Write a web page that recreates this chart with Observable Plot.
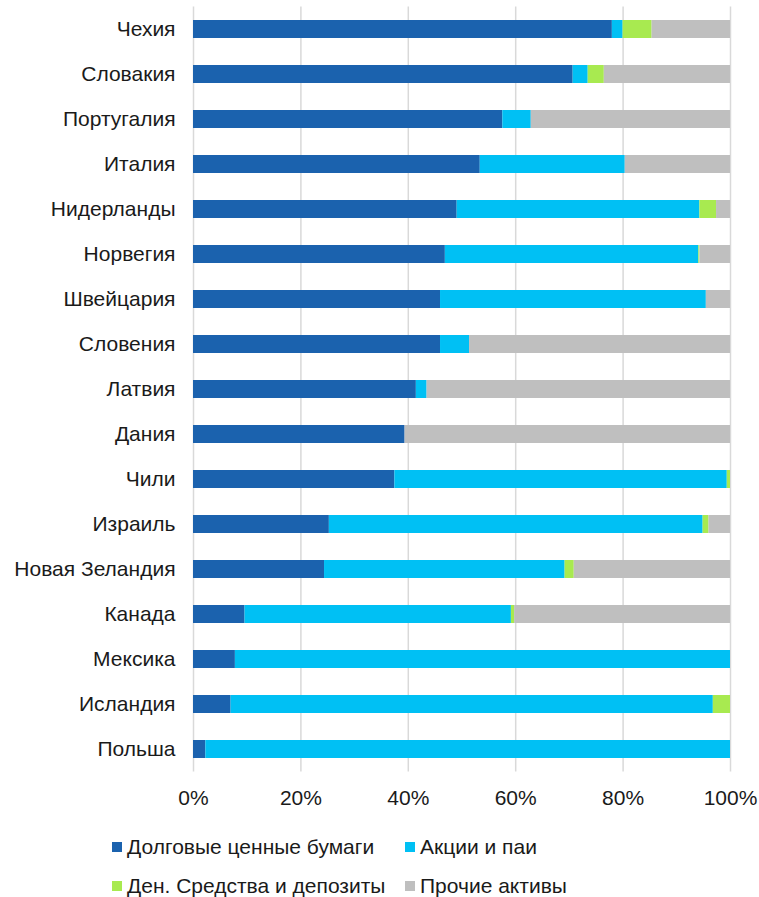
<!DOCTYPE html>
<html>
<head>
<meta charset="utf-8">
<script src="https://cdn.jsdelivr.net/npm/d3@7"></script>
<script src="https://cdn.jsdelivr.net/npm/@observablehq/plot@0.6"></script>
<style>
  body { margin: 0; background: #fff; font-family: "Liberation Sans", Arial, sans-serif; }
  #chart svg { display: block; }
  .legend { position: relative; height: 82px; font-size: 21px; color: #1a1a1a; }
  .item { position: absolute; display: flex; align-items: center; white-space: nowrap; line-height: 24px; }
  .sw { width: 10px; height: 10px; margin-right: 5px; }
</style>
</head>
<body>
<div id="chart"></div>
<div class="legend" id="legend"></div>
<script>
const countries = ["Чехия","Словакия","Португалия","Италия","Нидерланды","Норвегия","Швейцария","Словения","Латвия","Дания","Чили","Израиль","Новая Зеландия","Канада","Мексика","Исландия","Польша"];
const debt   = [78.0, 70.7, 57.6, 53.4, 49.1, 46.9, 46.0, 46.0, 41.5, 39.4, 37.5, 25.3, 24.4,  9.6,  7.8,  7.0,  2.3];
const shares = [ 2.0,  2.8,  5.3, 27.0, 45.2, 47.2, 49.5,  5.4,  2.0,  0.0, 61.9, 69.6, 44.8, 49.6, 92.2, 89.8, 97.7];
const cash   = [ 5.4,  3.0,  0.0,  0.0,  3.1,  0.2,  0.0,  0.0,  0.0,  0.0,  0.6,  1.1,  1.7,  0.6,  0.0,  3.2,  0.0];
const other  = [14.6, 23.5, 37.1, 19.6,  2.6,  5.7,  4.5, 48.6, 56.5, 60.6,  0.0,  4.0, 29.1, 40.2,  0.0,  0.0,  0.0];
const seriesNames = ["Долговые ценные бумаги","Акции и паи","Ден. Средства и депозиты","Прочие активы"];
const seriesColors = ["#1b62ae","#00c0f4","#a8ea50","#bfbfbf"];
const xTicks = [0, 20, 40, 60, 80, 100];

const seriesValues = [debt, shares, cash, other];
const rows = [];
countries.forEach((c, i) => {
  seriesNames.forEach((s, j) => rows.push({country: c, series: s, value: seriesValues[j][i]}));
});

const H = 815;
const plot = Plot.plot({
  width: 759,
  height: H,
  marginLeft: 193,
  marginRight: 29,
  marginTop: 6.5,
  marginBottom: H - 771.5,
  style: { fontFamily: "Liberation Sans, Arial, sans-serif", fontSize: "21px", color: "#1a1a1a", background: "#fff" },
  x: { domain: [0, 100], ticks: xTicks, tickFormat: d => d + "%", tickSize: 0, tickPadding: 18, label: null },
  y: { domain: countries, paddingInner: 0.6, paddingOuter: 0.3, tickSize: 0, tickPadding: 18, label: null },
  color: { domain: seriesNames, range: seriesColors },
  marks: [
    Plot.ruleX(xTicks, { stroke: "#d9d9d9", strokeWidth: 1.5 }),
    Plot.barX(rows, Plot.stackX({ y: "country", x: "value", fill: "series", order: seriesNames })),
  ]
});
document.getElementById("chart").appendChild(plot);

const legendItems = [
  {name: seriesNames[0], color: seriesColors[0], left: 112, top: 20},
  {name: seriesNames[1], color: seriesColors[1], left: 405, top: 20},
  {name: seriesNames[2], color: seriesColors[2], left: 112, top: 59},
  {name: seriesNames[3], color: seriesColors[3], left: 405, top: 59},
];
const lg = document.getElementById("legend");
legendItems.forEach(it => {
  const d = document.createElement("div");
  d.className = "item";
  d.style.left = it.left + "px";
  d.style.top = it.top + "px";
  d.innerHTML = `<span class="sw" style="background:${it.color}"></span><span>${it.name}</span>`;
  lg.appendChild(d);
});
</script>
</body>
</html>
